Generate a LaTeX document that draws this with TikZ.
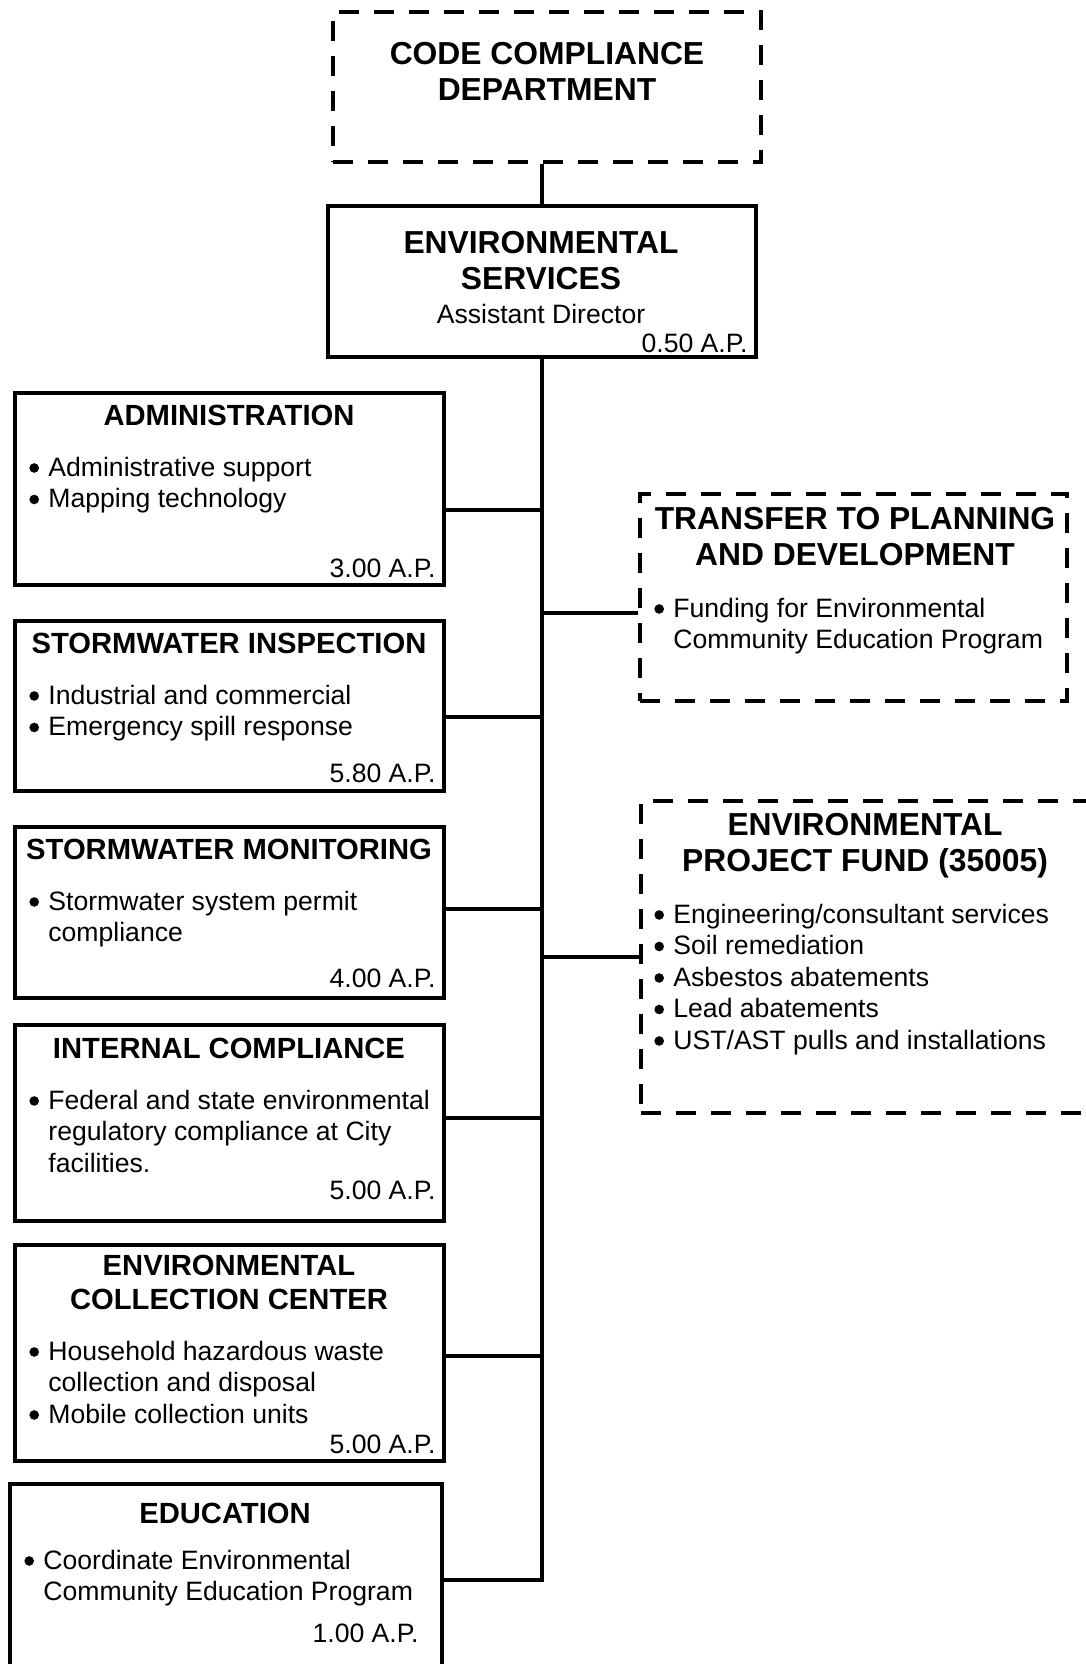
\documentclass[tikz,border=0pt]{standalone}
\usepackage{fontspec}
\setmainfont{Liberation Sans}
\usetikzlibrary{positioning}

% round bullet with a fixed hanging indent for the duty lists
\newcommand{\itm}{\makebox[9.5pt][l]{\tikz[baseline=0pt]\fill (2.5pt,4.1pt) circle (2.4pt);}}
\newcommand{\cont}{\hspace*{9.5pt}}

\begin{document}
\begin{tikzpicture}[x=0.5pt,y=-0.5pt,
  sz/.style 2 args={minimum width=#1*0.5pt,minimum height=#2*0.5pt,inner sep=0pt},
  unit/.style={draw,line width=1.6pt},
  fund/.style={draw,line width=2.2pt,dash pattern=on 10pt off 7.5pt},
  link/.style={line width=2pt},
  bigtitle/.style={font=\fontsize{15.9}{18}\selectfont\bfseries,align=center,inner sep=0pt,anchor=north},
  title/.style={font=\fontsize{14.6}{17}\selectfont\bfseries,align=center,inner sep=0pt,anchor=north},
  items/.style={font=\fontsize{13.3}{15.75}\selectfont,align=left,inner sep=0pt,anchor=north west},
  ap/.style={font=\fontsize{13.3}{15.75}\selectfont,inner sep=0pt,anchor=base east},
]
\useasboundingbox (0,0) rectangle (1086,1664);

% --- top of the chart ---
\node[fund,sz={428}{150}] (ccd) at (547,87) {};
\node[bigtitle] (ccdT) at (547,42) {CODE COMPLIANCE\\DEPARTMENT};

\node[unit,sz={428}{151}] (es) at (542,281.5) {};
\node[bigtitle] (esT) at (541,231) {ENVIRONMENTAL\\SERVICES};
\node[items,anchor=north] (esD) at (541,304) {Assistant Director};
\node[ap] (esAP) at (748,352) {0.50 A.P.};

% --- divisions on the left ---
\node[unit,sz={429}{192}] (admin) at (229.5,489) {};
\node[title] (adminT) at (229,404.5) {ADMINISTRATION};
\node[items] (adminL) at (29,456.5) {\itm Administrative support\\\itm Mapping technology};
\node[ap] (adminAP) at (436,577.5) {3.00 A.P.};

\node[unit,sz={429}{170}] (insp) at (229.5,706) {};
\node[title] (inspT) at (229,632.5) {STORMWATER INSPECTION};
\node[items] (inspL) at (29,684.5) {\itm Industrial and commercial\\\itm Emergency spill response};
\node[ap] (inspAP) at (436,782.5) {5.80 A.P.};

\node[unit,sz={429}{171}] (mon) at (229.5,912.5) {};
\node[title] (monT) at (229,838.5) {STORMWATER MONITORING};
\node[items] (monL) at (29,890.5) {\itm Stormwater system permit\\\cont compliance};
\node[ap] (monAP) at (436,987.5) {4.00 A.P.};

\node[unit,sz={429}{196}] (intc) at (229.5,1123) {};
\node[title] (intcT) at (229,1037.5) {INTERNAL COMPLIANCE};
\node[items] (intcL) at (29,1089.5) {\itm Federal and state environmental\\\cont regulatory compliance at City\\\cont facilities.};
\node[ap] (intcAP) at (436,1199.5) {5.00 A.P.};

\node[unit,sz={429}{216}] (ecc) at (229.5,1353) {};
\node[title] (eccT) at (229,1254.5) {ENVIRONMENTAL\\COLLECTION CENTER};
\node[items] (eccL) at (29,1340.5) {\itm Household hazardous waste\\\cont collection and disposal\\\itm Mobile collection units};
\node[ap] (eccAP) at (436,1453.5) {5.00 A.P.};

\node[unit,sz={432}{192}] (edu) at (226,1580) {};
\node[title] (eduT) at (225,1502.5) {EDUCATION};
\node[items] (eduL) at (24,1549.5) {\itm Coordinate Environmental\\\cont Community Education Program};
\node[ap] (eduAP) at (419,1642.5) {1.00 A.P.};

% --- funds on the right ---
\node[fund,sz={427}{207}] (tpd) at (853.5,597.5) {};
\node[bigtitle] (tpdT) at (855,506.6) {TRANSFER TO PLANNING\\AND DEVELOPMENT};
\node[items] (tpdL) at (654,597.5) {\itm Funding for Environmental\\\cont Community Education Program};

\node[fund,sz={455}{312}] (epf) at (868.5,957) {};
\node[bigtitle] (epfT) at (865,812.6) {ENVIRONMENTAL\\PROJECT FUND (35005)};
\node[items] (epfL) at (654,903.5) {\itm Engineering/consultant services\\\itm Soil remediation\\\itm Asbestos abatements\\\itm Lead abatements\\\itm UST/AST pulls and installations};

% --- connectors ---
\coordinate (jadmin) at (542,510);
\coordinate (jinsp) at (542,717);
\coordinate (jmon) at (542,909);
\coordinate (jintc) at (542,1118);
\coordinate (jecc) at (542,1356);
\coordinate (jtpd) at (542,613);
\coordinate (jepf) at (542,957);

\draw[link] (es.north) -- (es.north |- ccd.south);
\draw[link] (es.south) |- (edu.east);
\draw[link] (jadmin) -- (jadmin -| admin.east);
\draw[link] (jinsp) -- (jinsp -| insp.east);
\draw[link] (jmon) -- (jmon -| mon.east);
\draw[link] (jintc) -- (jintc -| intc.east);
\draw[link] (jecc) -- (jecc -| ecc.east);
\draw[link] (jtpd) -- (jtpd -| tpd.west);
\draw[link] (jepf) -- (jepf -| epf.west);

\end{tikzpicture}
\end{document}
